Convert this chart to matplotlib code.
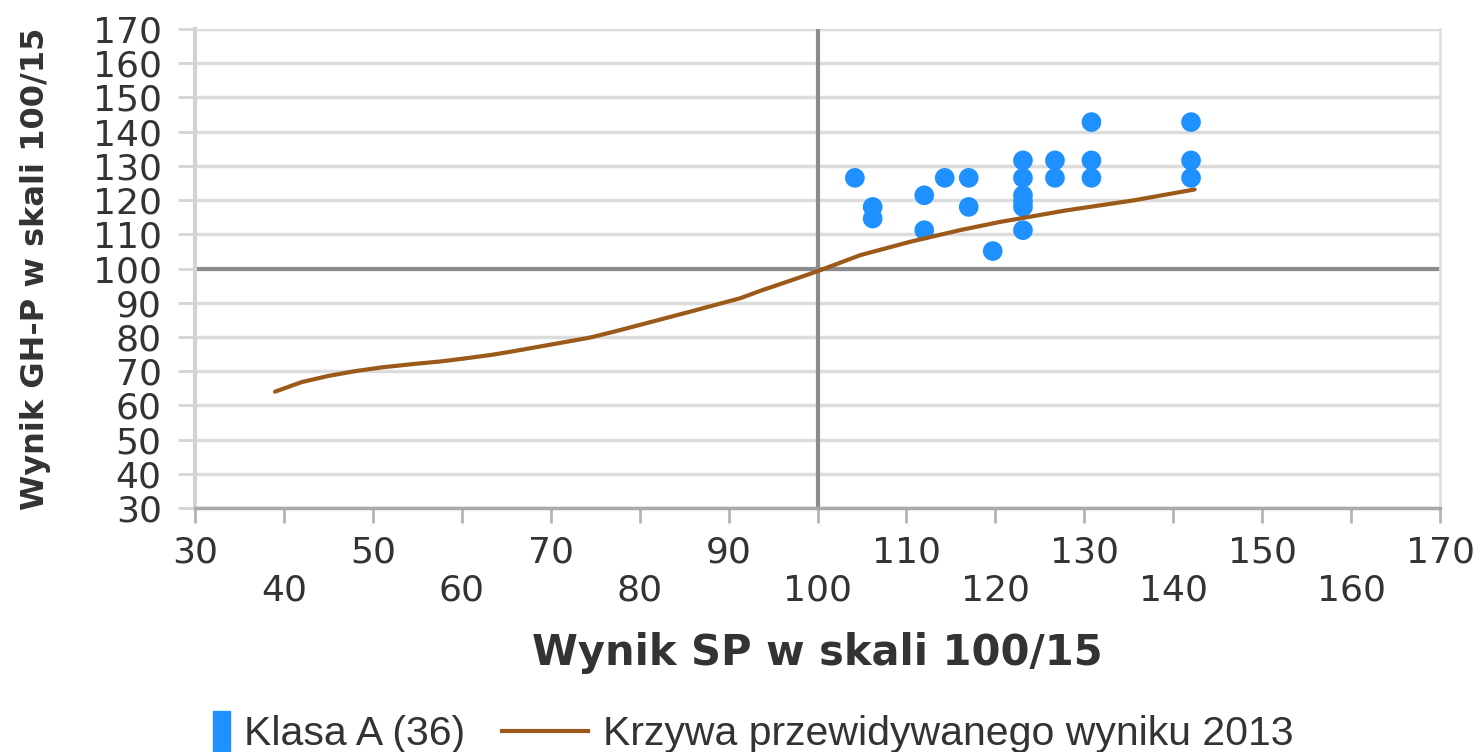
import matplotlib.pyplot as plt
import matplotlib.patches as mpatches
from matplotlib.legend_handler import HandlerPatch
from matplotlib.lines import Line2D

# scores of class A students (SP score, GH-P score)
sp_scores = [104.2, 106.2, 106.2, 112.0, 112.0, 114.3, 117.0, 117.0, 119.7,
             123.1, 123.1, 123.1, 123.1, 123.1, 123.1, 126.7, 126.7,
             130.8, 130.8, 130.8, 142.0, 142.0, 142.0]
ghp_scores = [126.5, 118.0, 114.6, 121.4, 111.2, 126.5, 126.5, 118.0, 105.1,
              131.6, 126.5, 121.4, 119.6, 118.0, 111.2, 131.6, 126.5,
              142.8, 131.6, 126.5, 142.8, 131.6, 126.5]

# predicted score curve 2013
curve_x = [39.0, 42, 45, 48, 51, 55, 57.5, 60, 63.2, 66, 68.8, 71.6, 74.4,
           77.2, 80, 85.7, 91.3, 93.6, 97, 100, 104.8, 110.4, 116, 120.5,
           128, 135.5, 142.4]
curve_y = [64.0, 66.8, 68.6, 70.0, 71.1, 72.2, 72.8, 73.6, 74.7, 75.9, 77.2,
           78.5, 79.8, 81.6, 83.5, 87.4, 91.3, 93.5, 96.5, 99.2, 103.9, 107.8,
           111.2, 113.6, 117.0, 119.9, 123.1]

major_x = list(range(30, 171, 20))
minor_x = list(range(40, 161, 20))
y_ticks = list(range(30, 171, 10))

blue = '#1e90ff'
brown = '#9c5a1a'

fig = plt.figure(figsize=(14.82, 7.52), dpi=100)
ax = fig.add_axes([0.1316, 0.3245, 0.8401, 0.6369])

ax.set_xlim(30, 170)
ax.set_ylim(30, 170)

for yv in y_ticks:
    ax.axhline(yv, color='#dcdcdc', lw=2.5, zorder=0)
ax.axhline(100, color='#8c8c8c', lw=3, zorder=1)
ax.axvline(100, color='#8c8c8c', lw=3, zorder=1)

ax.scatter(sp_scores, ghp_scores, s=200, color=blue, edgecolors='none', zorder=3)
ax.plot(curve_x, curve_y, color=brown, lw=3, zorder=4, solid_capstyle='round')

ax.set_xticks(major_x)
ax.set_xticks(minor_x, minor=True)
ax.set_xticklabels([str(v) for v in major_x])
ax.set_xticklabels([str(v) for v in minor_x], minor=True)
ax.set_yticks(y_ticks)

ax.tick_params(axis='x', which='both', length=11, width=2, color='#b4b4b4',
               labelsize=26, labelcolor='#333333')
ax.tick_params(axis='x', which='major', pad=9)
ax.tick_params(axis='x', which='minor', pad=36)
ax.tick_params(axis='y', length=12, width=2, color='#d4d4d4', pad=12,
               labelsize=26, labelcolor='#333333')

ax.spines['top'].set_visible(False)
ax.spines['right'].set_color('#e0e0e0')
ax.spines['right'].set_linewidth(2)
ax.spines['left'].set_color('#d3d3d3')
ax.spines['left'].set_linewidth(3)
ax.spines['bottom'].set_color('#a9a9a9')
ax.spines['bottom'].set_linewidth(2.5)

ax.set_xlabel('Wynik SP w skali 100/15', fontsize=30, fontweight='bold',
              color='#333333', labelpad=18)
ax.set_ylabel('Wynik GH-P w skali 100/15', fontsize=23, fontweight='bold',
              color='#333333', labelpad=30)


def narrow_box(legend, orig_handle, xdescent, ydescent, width, height, fontsize):
    w = 0.42 * fontsize
    return mpatches.Rectangle((width - w - xdescent, -ydescent - 0.2 * height),
                              w, height * 1.4)


handles = [mpatches.Patch(color=blue), Line2D([], [], color=brown, lw=3)]
labels = ['Klasa A (36)', 'Krzywa przewidywanego wyniku 2013']
fig.legend(handles, labels, loc='center left', bbox_to_anchor=(0.097, 0.024),
           ncol=2, frameon=False, borderpad=0, borderaxespad=0,
           handlelength=2.1, handletextpad=0.35, columnspacing=0.9,
           handler_map={mpatches.Patch: HandlerPatch(patch_func=narrow_box)},
           prop={'family': ['Liberation Sans', 'DejaVu Sans'], 'size': 29.5},
           labelcolor='#333333')

fig.savefig('out.png', dpi=100)
